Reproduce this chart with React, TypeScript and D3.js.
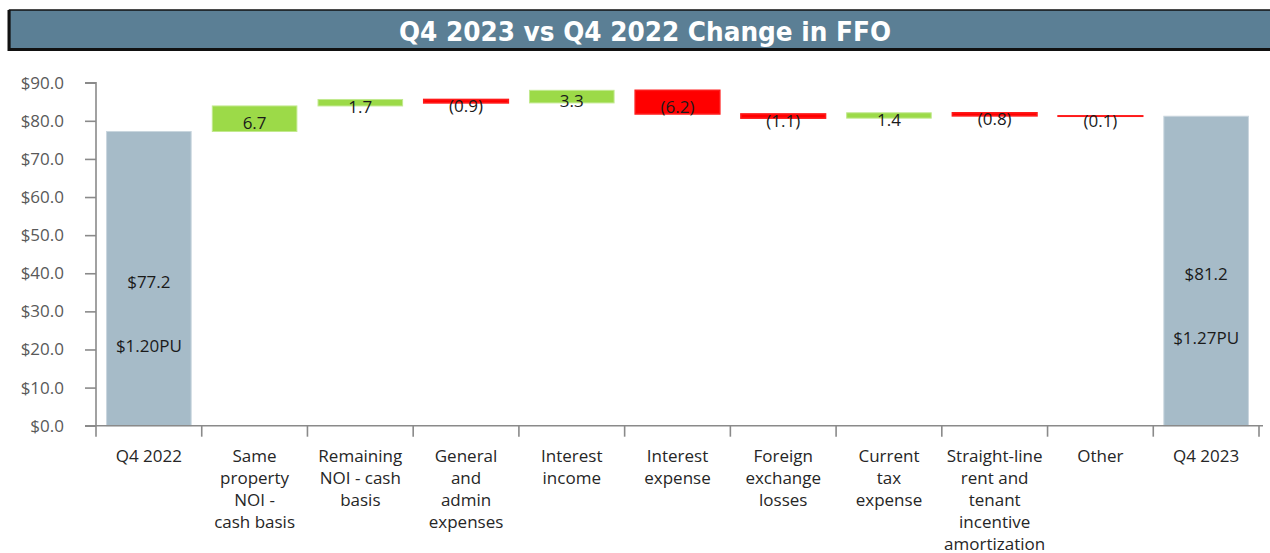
import React, { useEffect, useRef } from "react";
import * as d3 from "d3";

// chart values
const categories = [
  "Q4 2022",
  "Same\nproperty\nNOI -\ncash basis",
  "Remaining\nNOI - cash\nbasis",
  "General\nand\nadmin\nexpenses",
  "Interest\nincome",
  "Interest\nexpense",
  "Foreign\nexchange\nlosses",
  "Current\ntax\nexpense",
  "Straight-line\nrent and\ntenant\nincentive\namortization",
  "Other",
  "Q4 2023",
];
const startValue = 77.2;
const changes = [6.7, 1.7, -0.9, 3.3, -6.2, -1.1, 1.4, -0.8, -0.1];
const endValue = 81.2;
const totalLabels = ["$77.2", "$81.2"];
const perUnitLabels = ["$1.20PU", "$1.27PU"];
const yTicks = [0, 10, 20, 30, 40, 50, 60, 70, 80, 90];
const title = "Q4 2023 vs Q4 2022 Change in FFO";

const W = 1270;
const H = 553;
const FONT = "'Open Sans', 'Noto Sans', sans-serif";
const FS = 17;

export default function App() {
  const ref = useRef<SVGSVGElement>(null);

  useEffect(() => {
    const svg = d3.select(ref.current);
    svg.selectAll("*").remove();

    const left = 96;
    const right = 1259;
    const y0 = 425.7;
    const yTop = 82.7;

    const x = d3
      .scaleBand()
      .domain(categories)
      .range([left, right])
      .paddingInner(0.2)
      .paddingOuter(0.1);
    const y = d3.scaleLinear().domain([0, 90]).range([y0, yTop]);

    // title banner
    const tb = svg.append("g");
    tb.append("rect")
      .attr("x", 9.5)
      .attr("y", 10)
      .attr("width", 1275)
      .attr("height", 39)
      .attr("fill", "#5b7f95")
      .attr("stroke", "#111")
      .attr("stroke-width", 1.5);
    tb.append("line")
      .attr("x1", 9)
      .attr("x2", 1270)
      .attr("y1", 49.5)
      .attr("y2", 49.5)
      .attr("stroke", "#111")
      .attr("stroke-width", 3);
    tb.append("line")
      .attr("x1", 9)
      .attr("x2", 9)
      .attr("y1", 10)
      .attr("y2", 51)
      .attr("stroke", "#111")
      .attr("stroke-width", 3);
    tb.append("text")
      .attr("x", 645)
      .attr("y", 31)
      .attr("text-anchor", "middle")
      .attr("dominant-baseline", "central")
      .attr("fill", "#fff")
      .attr("font-family", "'DejaVu Sans Condensed', 'Liberation Sans Narrow', sans-serif")
      .attr("font-weight", "bold")
      .attr("font-size", 27)
      .attr("textLength", 492)
      .attr("lengthAdjust", "spacingAndGlyphs")
      .text(title);

    // waterfall steps
    const steps: { cat: string; a: number; b: number; kind: string }[] = [];
    steps.push({ cat: categories[0], a: 0, b: startValue, kind: "total" });
    let run = startValue;
    changes.forEach((c, i) => {
      steps.push({ cat: categories[i + 1], a: run, b: run + c, kind: c >= 0 ? "up" : "down" });
      run += c;
    });
    steps.push({ cat: categories[categories.length - 1], a: 0, b: endValue, kind: "total" });

    const fill = (k: string) => (k === "total" ? "#a6bbc8" : k === "up" ? "#9cda48" : "#ff0000");
    const stroke = (k: string) => (k === "total" ? "#c9d6de" : k === "up" ? "#c2e98f" : "#ff1a1a");
    const sw = (k: string) => (k === "down" ? 1.6 : 1);

    svg
      .append("g")
      .selectAll("rect")
      .data(steps)
      .join("rect")
      .attr("x", (d) => x(d.cat)!)
      .attr("width", x.bandwidth())
      .attr("y", (d) => y(Math.max(d.a, d.b)))
      .attr("height", (d) => Math.abs(y(d.a) - y(d.b)))
      .attr("fill", (d) => fill(d.kind))
      .attr("stroke", (d) => stroke(d.kind))
      .attr("stroke-width", (d) => sw(d.kind));

    // change labels
    svg
      .append("g")
      .selectAll("text")
      .data(steps.filter((d) => d.kind !== "total"))
      .join("text")
      .attr("x", (d) => x(d.cat)! + x.bandwidth() / 2)
      .attr("y", (d) => (y(d.a) + y(d.b)) / 2 + 4)
      .attr("text-anchor", "middle")
      .attr("dominant-baseline", "central")
      .attr("font-family", FONT)
      .attr("font-size", FS)
      .attr("fill", "#1a1a1a")
      .text((d) => {
        const v = Math.abs(d.b - d.a).toFixed(1);
        return d.b >= d.a ? v : `(${v})`;
      });

    // total labels
    const totals = steps.filter((d) => d.kind === "total");
    const tl = svg.append("g").selectAll("g").data(totals).join("g");
    tl.append("text")
      .attr("x", (d) => x(d.cat)! + x.bandwidth() / 2)
      .attr("y", (d) => y(d.b / 2) + 3)
      .attr("text-anchor", "middle")
      .attr("dominant-baseline", "central")
      .attr("font-family", FONT)
      .attr("font-size", FS)
      .attr("fill", "#1a1a1a")
      .text((_, i) => totalLabels[i]);
    tl.append("text")
      .attr("x", (d) => x(d.cat)! + x.bandwidth() / 2)
      .attr("y", (d) => y(d.b / 2) + 67)
      .attr("text-anchor", "middle")
      .attr("dominant-baseline", "central")
      .attr("font-family", FONT)
      .attr("font-size", FS)
      .attr("fill", "#1a1a1a")
      .text((_, i) => perUnitLabels[i]);

    // y axis
    const ya = svg
      .append("g")
      .attr("transform", `translate(${left},0)`)
      .call(
        d3
          .axisLeft(y)
          .tickValues(yTicks)
          .tickSize(11)
          .tickPadding(21)
          .tickFormat((d) => `$${(+d).toFixed(1)}`)
      );
    ya.select(".domain").attr("stroke", "#8a8a8a").attr("stroke-width", 1.6).attr("d", `M-11,${yTop}H0V${y0}`);
    ya.selectAll(".tick line").attr("stroke", "#8a8a8a").attr("stroke-width", 1.6);
    ya.selectAll(".tick text")
      .attr("font-family", FONT)
      .attr("font-size", FS)
      .attr("fill", "#595959");

    // x axis
    const xa = svg.append("g").attr("transform", `translate(0,${y0})`);
    xa.append("line")
      .attr("x1", left - 11)
      .attr("x2", right + 4)
      .attr("stroke", "#8a8a8a")
      .attr("stroke-width", 1.6);
    const step = x.step();
    const bounds = d3.range(categories.length + 1).map((i) => left + i * step);
    xa.selectAll("line.tk")
      .data(bounds)
      .join("line")
      .attr("class", "tk")
      .attr("x1", (d) => d)
      .attr("x2", (d) => d)
      .attr("y1", 0)
      .attr("y2", 11)
      .attr("stroke", "#8a8a8a")
      .attr("stroke-width", 1.6);

    const cl = xa
      .selectAll("text")
      .data(categories)
      .join("text")
      .attr("text-anchor", "middle")
      .attr("font-family", FONT)
      .attr("font-size", FS)
      .attr("fill", "#262626");
    cl.selectAll("tspan")
      .data((d) => d.split("\n"))
      .join("tspan")
      .attr("x", function () {
        const c = d3.select((this as any).parentNode).datum() as string;
        return x(c)! + x.bandwidth() / 2;
      })
      .attr("y", (_, i) => 30 + i * 22)
      .attr("dominant-baseline", "central")
      .text((d) => d);
  }, []);

  return (
    <svg
      ref={ref}
      width={W}
      height={H}
      style={{ position: "absolute", left: 0, top: 0, background: "#fff" }}
    />
  );
}
